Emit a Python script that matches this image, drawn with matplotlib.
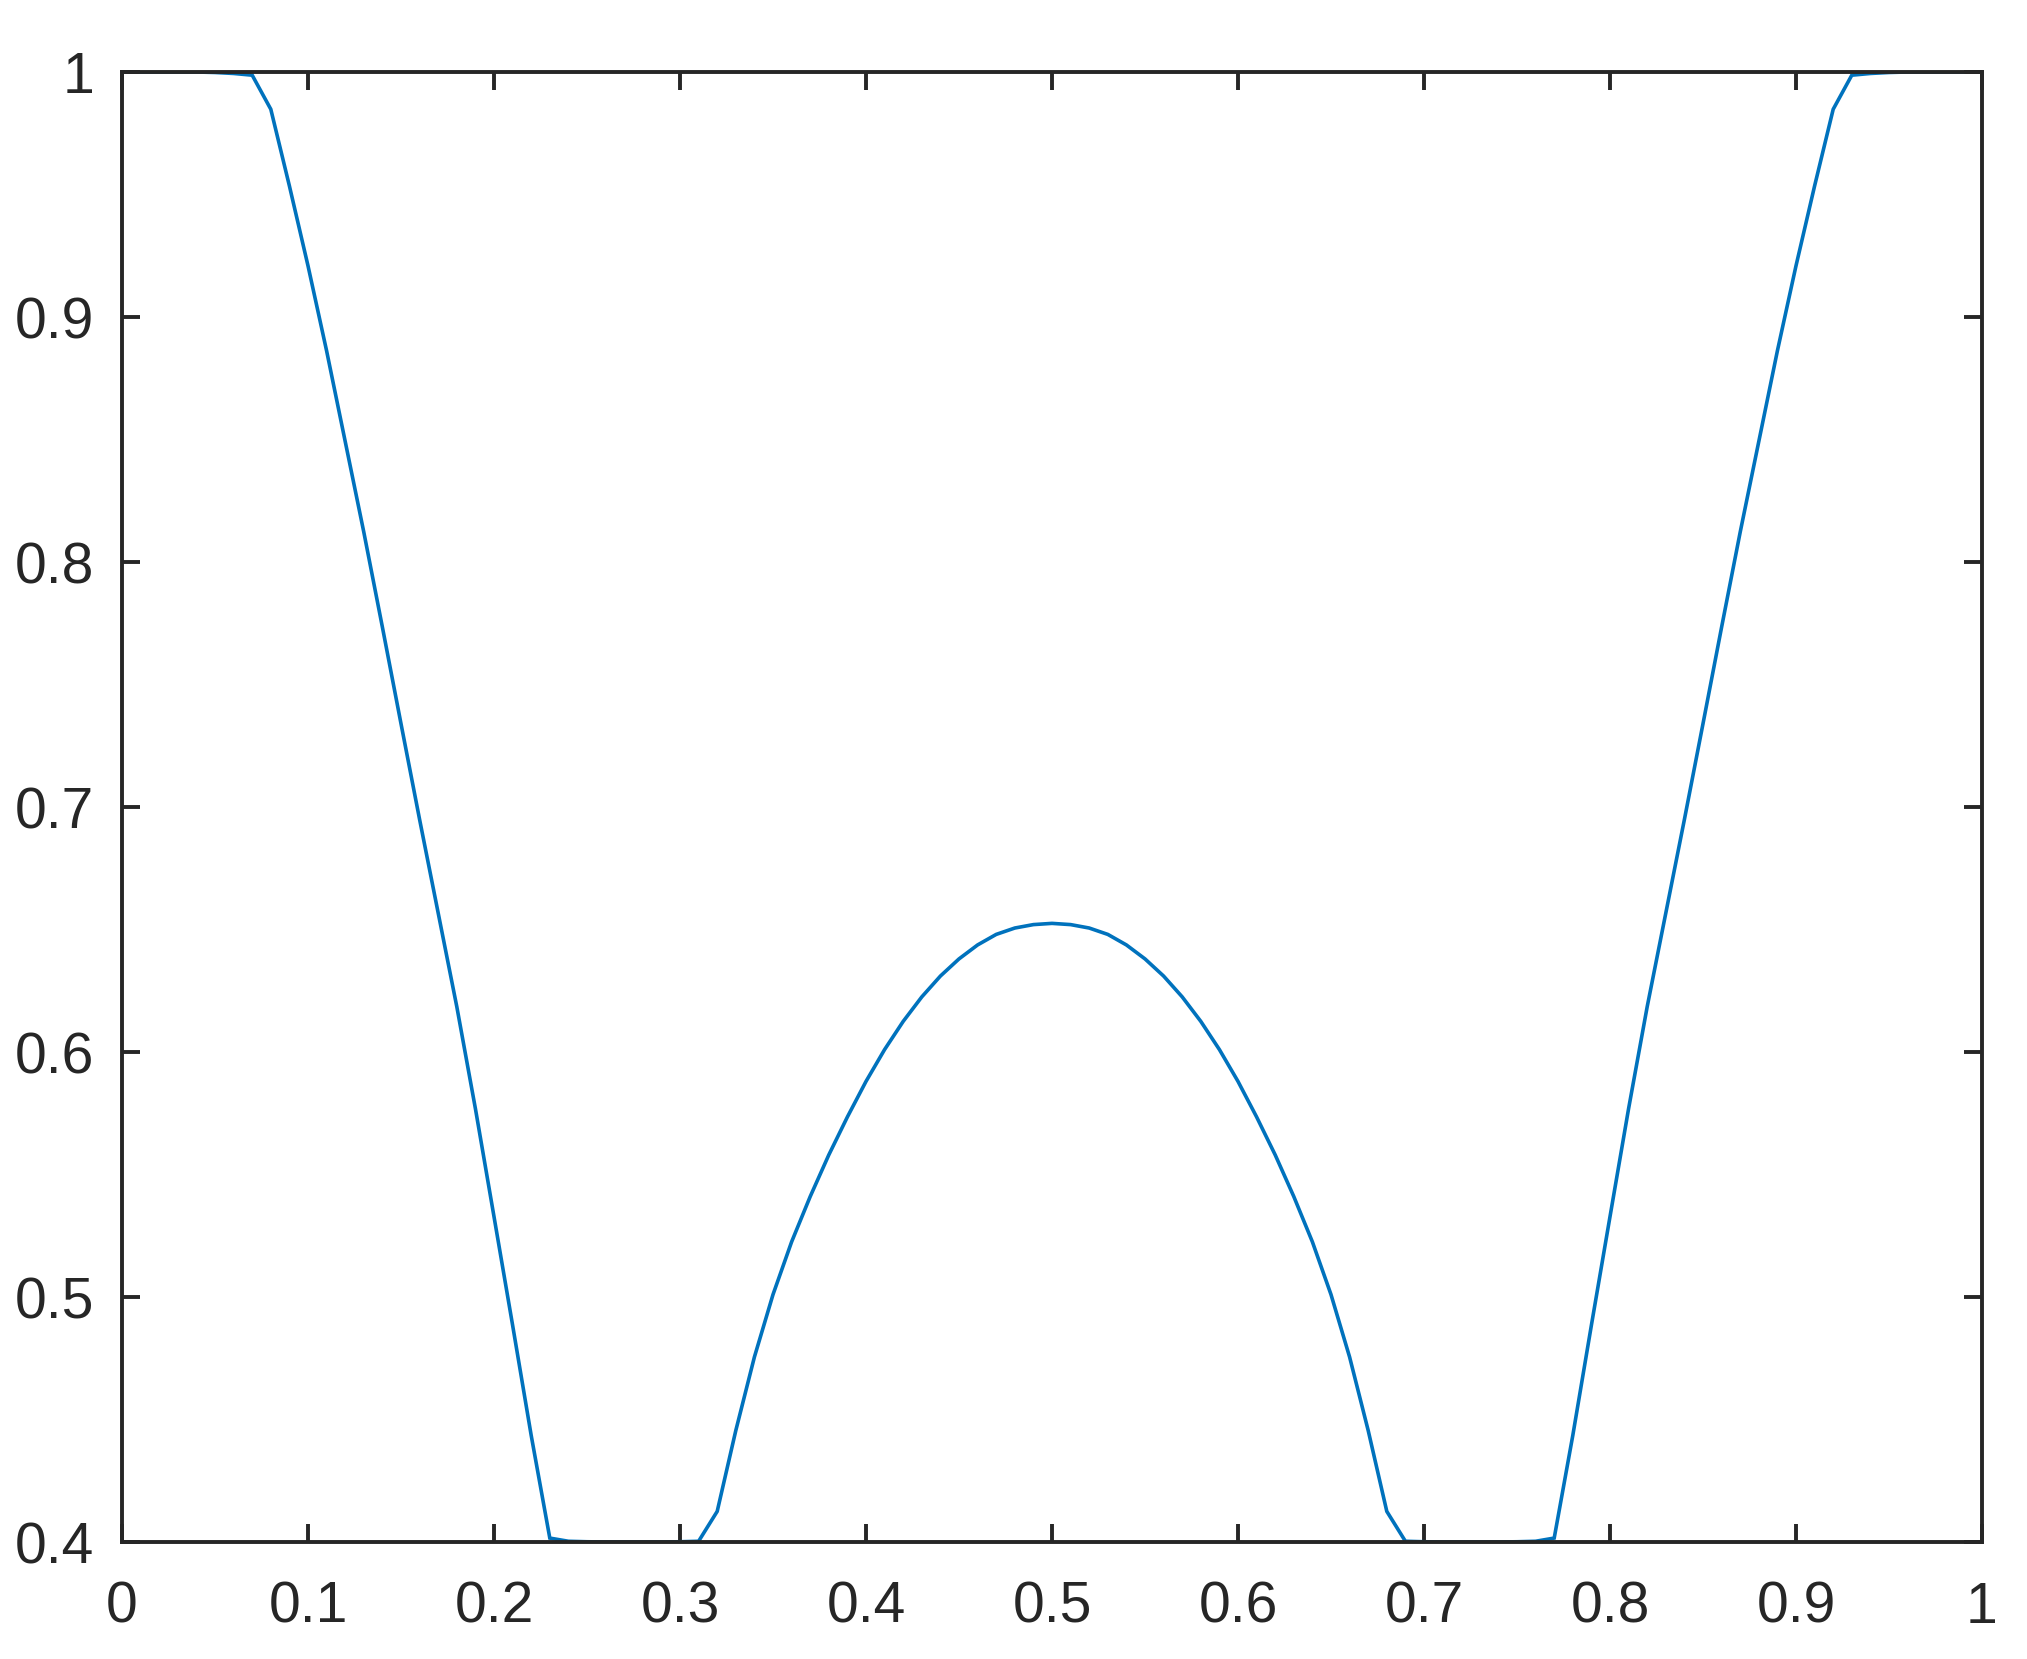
import numpy as np
import matplotlib
matplotlib.use("Agg")
import matplotlib.pyplot as plt

# sample positions (0.01 .. 0.99)
x_vals = [round(0.01 * i, 2) for i in range(1, 100)]

# curve values
y_vals = [
    1.0, 1.0, 1.0, 1.0, 0.9998, 0.9994, 0.9987, 0.9848, 0.9535, 0.9209,
    0.8862, 0.8492, 0.8122, 0.7734, 0.7340, 0.6949, 0.6567, 0.6185, 0.5769, 0.5328,
    0.4885, 0.4435, 0.4016, 0.4003, 0.4001, 0.4, 0.4, 0.4, 0.4, 0.4001,
    0.4003, 0.4125, 0.4455, 0.4755, 0.5010, 0.5225, 0.5410, 0.5580, 0.5735, 0.5880,
    0.6010, 0.6125, 0.6225, 0.6310, 0.6380, 0.6437, 0.6480, 0.6506, 0.6520, 0.6525,
    0.6520, 0.6506, 0.6480, 0.6437, 0.6380, 0.6310, 0.6225, 0.6125, 0.6010, 0.5880,
    0.5735, 0.5580, 0.5410, 0.5225, 0.5010, 0.4755, 0.4455, 0.4125, 0.4003, 0.4001,
    0.4, 0.4, 0.4, 0.4, 0.4001, 0.4003, 0.4016, 0.4435, 0.4885, 0.5328,
    0.5769, 0.6185, 0.6567, 0.6949, 0.7340, 0.7734, 0.8122, 0.8492, 0.8862, 0.9209,
    0.9535, 0.9848, 0.9987, 0.9994, 0.9998, 1.0, 1.0, 1.0, 1.0,
]

x_ticks = [0, 0.1, 0.2, 0.3, 0.4, 0.5, 0.6, 0.7, 0.8, 0.9, 1]
x_tick_labels = ["0", "0.1", "0.2", "0.3", "0.4", "0.5", "0.6", "0.7", "0.8", "0.9", "1"]
y_ticks = [0.4, 0.5, 0.6, 0.7, 0.8, 0.9, 1]
y_tick_labels = ["0.4", "0.5", "0.6", "0.7", "0.8", "0.9", "1"]

plt.rcParams['font.family'] = ['Liberation Sans', 'DejaVu Sans']
DPI = 200
fig = plt.figure(figsize=(2027 / DPI, 1659 / DPI), dpi=DPI)
ax = fig.add_axes([122 / 2027, 1 - 1542 / 1659, (1982 - 122) / 2027, (1542 - 72) / 1659])

ax.plot(x_vals, y_vals, color='#0072BD', lw=1.3, solid_joinstyle='miter')

ax.set_xlim(0, 1)
ax.set_ylim(0.4, 1)
ax.set_xticks(x_ticks)
ax.set_xticklabels(x_tick_labels)
ax.set_yticks(y_ticks)
ax.set_yticklabels(y_tick_labels)

dark = '#262626'
for s in ax.spines.values():
    s.set_color(dark)
    s.set_linewidth(1.4)
ax.tick_params(axis='both', direction='in', length=6.5, width=1.4, color=dark,
               labelcolor=dark, labelsize=20.5, top=True, right=True)
ax.tick_params(axis='x', pad=14)
ax.tick_params(axis='y', pad=10)

fig.savefig("out.png", dpi=DPI, facecolor='white')
